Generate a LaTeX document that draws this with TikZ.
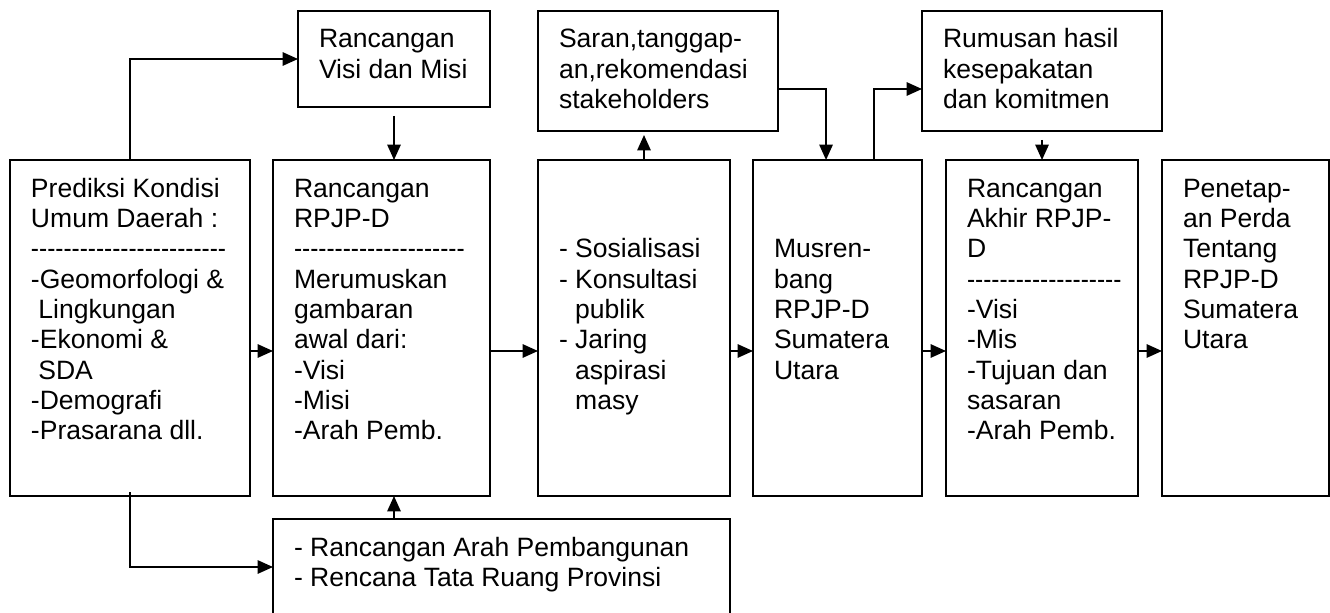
\documentclass[tikz,border=0pt]{standalone}
\usepackage{fontspec}
\usepackage{graphicx}
\setmainfont{Liberation Sans}[Ligatures=TeXOff]
\usetikzlibrary{arrows.meta}
\newlength{\px}
\setlength{\px}{0.75pt}
\newcommand*{\isi}[3]{\parbox[c][#2\px][t]{\dimexpr#1\px-42\px\relax}{\raggedright\rule{0pt}{27.75pt}#3}}
\newcommand*{\garis}[1]{\scalebox{0.92}[1]{\foreach \nn in {1,...,#1}{-}}}
\newcommand*{\spasi}{\hspace*{.278em}}
\newcommand*{\geser}{\hspace*{.611em}}

\begin{document}
\begin{tikzpicture}[x=0.75pt, y=-0.75pt,
    kotak/.style={draw, line width=1.5pt, anchor=north west, inner xsep=15.75pt,
      inner ysep=0pt, outer sep=0pt, font=\fontsize{19.9pt}{22.75pt}\selectfont},
    panah/.style={line width=1.3pt, -{Triangle[length=11.5pt, width=10pt]}}]
  \useasboundingbox (0,0) rectangle (1330,613);
  \clip (0,0) rectangle (1330,613);

  % kotak bawah
  \node[kotak] (prediksi) at (10,160) {\isi{240}{336}{Prediksi Kondisi\\ Umum Daerah :\\ \garis{24}\\ -Geomorfologi \&\\ \spasi Lingkungan\\ -Ekonomi \&\\ \spasi SDA\\ -Demografi\\ -Prasarana dll.}};
  \node[kotak] (rancangan) at (273,160) {\isi{217}{336}{Rancangan\\ RPJP-D\\ \garis{21}\\ Merumuskan\\ gambaran\\ awal dari:\\ -Visi\\ -Misi\\ -Arah Pemb.}};
  \node[kotak] (sosial) at (538,160) {\isi{192}{336}{\mbox{}\\ \mbox{}\\ - Sosialisasi\\ - Konsultasi\\ \geser publik\\ - Jaring\\ \geser aspirasi\\ \geser masy}};
  \node[kotak] (musren) at (753,160) {\isi{169}{336}{\mbox{}\\ \mbox{}\\ Musren-\\ bang\\ RPJP-D\\ Sumatera\\ Utara}};
  \node[kotak] (akhir) at (946,160) {\isi{192}{336}{Rancangan\\ Akhir RPJP-\\ D\\ \garis{19}\\ -Visi\\ -Mis\\ -Tujuan dan\\ sasaran\\ -Arah Pemb.}};
  \node[kotak] (tetap) at (1162,160) {\isi{167}{336}{Penetap-\\ an Perda\\ Tentang\\ RPJP-D\\ Sumatera\\ Utara}};

  % kotak atas
  \node[kotak] (visi) at (298,11) {\isi{192}{96}{Rancangan\\ Visi dan Misi}};
  \node[kotak] (saran) at (538,11) {\isi{240}{120}{Saran,tanggap-\\ an,rekomendasi\\ stakeholders}};
  \node[kotak] (rumusan) at (922,11) {\isi{240}{120}{Rumusan hasil\\ kesepakatan\\ dan komitmen}};

  \node[kotak] (arah) at (273,519) {\isi{457}{96}{- Rancangan Arah Pembangunan\\ - Rencana Tata Ruang Provinsi}};

  % panah
  \foreach \a/\b in {prediksi/rancangan, rancangan/sosial, sosial/musren, musren/akhir, akhir/tetap}
    \draw[panah] ([yshift=-17.25pt]\a.east) -- ([yshift=-17.25pt]\b.west);

  \draw[panah] (prediksi.north) |- (visi.west);
  \draw[panah] ([yshift=-6.75pt]visi.south) -- (visi.south |- rancangan.north);
  \draw[panah] ([yshift=3pt]prediksi.south) |- (arah.west);
  \draw[panah] (visi.south |- arah.north) -- (visi.south |- rancangan.south);
  \draw[panah] ([xshift=7.5pt]sosial.north) -- ([xshift=7.5pt,yshift=-3pt]sosial.north |- saran.south);
  \draw[panah] ([yshift=-13.5pt]saran.east) -| ([xshift=-8.6pt]musren.north);
  \draw[panah] ([xshift=27.4pt]musren.north) |- ([yshift=-13.5pt]rumusan.west);
  \draw[panah] ([yshift=-6.75pt]rumusan.south) -- (akhir.north);
\end{tikzpicture}
\end{document}
